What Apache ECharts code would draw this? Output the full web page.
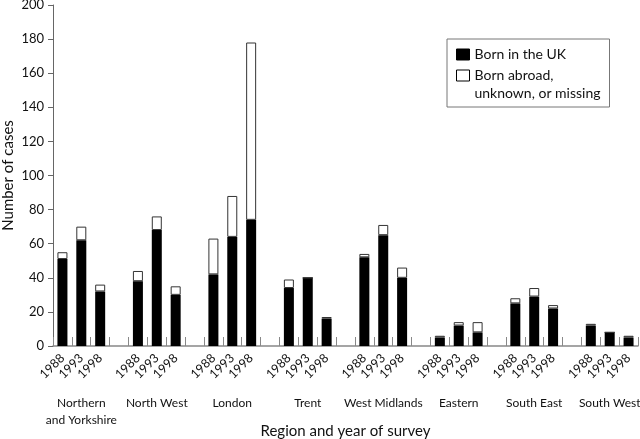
<!DOCTYPE html>
<html>
<head>
<meta charset="utf-8">
<script src="https://cdn.jsdelivr.net/npm/echarts@6/dist/echarts.min.js"></script>
<style>html,body{margin:0;padding:0;background:#fff}#c{width:640px;height:439px}</style>
</head>
<body>
<div id="c"></div>
<script>
var regions = ['Northern\nand Yorkshire', 'North West', 'London', 'Trent', 'West Midlands', 'Eastern', 'South East', 'South West'];
var years = ['1988', '1993', '1998'];
var bornUK = [51, 62, 32, 38, 68, 30, 42, 64, 74, 34, 40, 16, 52, 65, 40, 5, 12, 8, 25, 29, 22, 12, 8, 5];
var bornOther = [4, 8, 4, 6, 8, 5, 21, 24, 104, 5, 0, 1, 2, 6, 6, 1, 2, 6, 3, 5, 2, 1, 0, 1];
var yTicks = [0, 20, 40, 60, 80, 100, 120, 140, 160, 180, 200];
var seriesNames = ['Born in the UK', 'Born abroad,\nunknown, or missing'];

var FONT = 'Lato';
var cats = [], regionCats = [], ukData = [], otherData = [];
regions.forEach(function (r, g) {
  years.forEach(function (y, k) {
    cats.push(y);
    regionCats.push(k === 1 ? r : '');
    ukData.push(bornUK[g * 3 + k]);
    otherData.push(bornOther[g * 3 + k]);
  });
  if (g < regions.length - 1) {
    cats.push(' ');
    regionCats.push(' ');
    ukData.push('-');
    otherData.push('-');
  }
});

var chart = echarts.init(document.getElementById('c'), null, {renderer: 'canvas'});
chart.setOption({
  animation: false,
  backgroundColor: '#fff',
  textStyle: {fontFamily: FONT},
  grid: {left: 53, right: 2, top: 5, bottom: 93, containLabel: false, outerBoundsMode: 'none'},
  legend: {
    orient: 'vertical',
    left: 447, top: 39,
    padding: [6.5, 9, 4.5, 9],
    borderColor: '#777', borderWidth: 1,
    itemWidth: 13, itemHeight: 11,
    itemGap: -15,
    icon: 'rect',
    itemStyle: {borderColor: '#000', borderWidth: 1},
    textStyle: {fontFamily: FONT, fontSize: 14, lineHeight: 18, color: '#111'},
    data: seriesNames,
    formatter: function (name) {
      return name === seriesNames[1] ? '\n' + name : name;
    }
  },
  xAxis: [{
    type: 'category',
    data: cats,
    axisLine: {lineStyle: {color: '#888', width: 1.5}},
    axisTick: {show: true, inside: true, length: 9, interval: 0, lineStyle: {color: '#888'}},
    axisLabel: {interval: 0, rotate: 45, margin: 10, fontSize: 12.5, color: '#111', fontFamily: FONT},
    name: 'Region and year of survey',
    nameLocation: 'middle',
    nameGap: 78,
    nameMoveOverlap: false,
    nameTextStyle: {fontSize: 15, color: '#111', fontFamily: FONT},
    splitLine: {show: false}
  }, {
    type: 'category',
    position: 'bottom',
    data: regionCats,
    axisLine: {show: false},
    axisTick: {show: false},
    axisLabel: {interval: 0, margin: 49, fontSize: 12, lineHeight: 16.5, color: '#111', fontFamily: FONT},
    splitLine: {show: false}
  }],
  yAxis: {
    type: 'value',
    min: yTicks[0], max: yTicks[yTicks.length - 1], interval: 20,
    axisLine: {show: true, lineStyle: {color: '#666'}},
    axisTick: {show: true, length: 5, lineStyle: {color: '#666'}},
    axisLabel: {margin: 9, fontSize: 13, color: '#111', fontFamily: FONT},
    splitLine: {show: false},
    name: 'Number of cases',
    nameLocation: 'middle',
    nameGap: 37,
    nameMoveOverlap: false,
    nameTextStyle: {fontSize: 15, color: '#111', fontFamily: FONT}
  },
  series: [{
    name: seriesNames[0],
    type: 'bar', stack: 'a', xAxisIndex: 0,
    barWidth: 10,
    data: ukData,
    itemStyle: {color: '#000'}
  }, {
    name: seriesNames[1],
    type: 'bar', stack: 'a', xAxisIndex: 0,
    barWidth: 10,
    data: otherData,
    itemStyle: {color: '#fff', borderColor: '#333', borderWidth: 1}
  }]
});
</script>
</body>
</html>
